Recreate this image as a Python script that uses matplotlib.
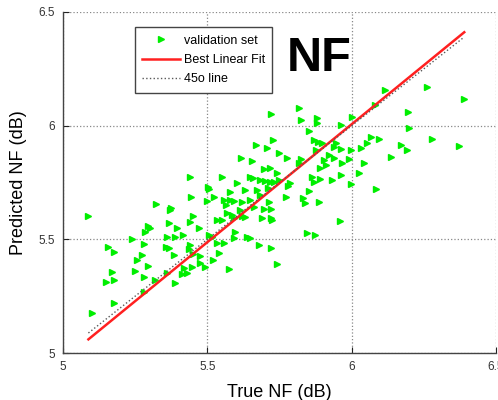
import numpy as np
import matplotlib.pyplot as plt

plt.rcParams['font.family'] = ['Liberation Sans', 'DejaVu Sans']

# validation set: true vs predicted noise figure (dB)
true_nf = [6.114, 6.261, 6.390, 6.082, 5.817, 5.719, 5.823, 5.881, 5.881, 5.962,
           6.000, 6.195, 6.199, 5.852, 5.869, 5.885, 5.898, 5.670, 5.727, 5.707,
           5.748, 5.777, 5.616, 5.656, 5.817, 5.823, 5.875, 5.904, 5.921, 5.939,
           5.944, 5.962, 5.939, 5.997, 5.991, 6.031, 6.054, 6.066, 6.095, 6.135,
           6.170, 6.193, 6.277, 6.373, 6.043, 6.025, 5.968, 5.910, 5.892, 5.864,
           5.869, 5.892, 5.933, 5.962, 5.997, 6.083, 5.852, 5.831, 5.840, 5.886,
           5.959, 5.695, 5.716, 5.740, 5.649, 5.659, 5.684, 5.701, 5.716, 5.730,
           5.748, 5.786, 5.779, 5.603, 5.551, 5.502, 5.505, 5.441, 5.580, 5.632,
           5.673, 5.709, 5.771, 5.522, 5.557, 5.563, 5.580, 5.591, 5.499, 5.443,
           5.620, 5.647, 5.661, 5.684, 5.713, 5.695, 5.719, 5.612, 5.568, 5.586,
           5.591, 5.620, 5.632, 5.690, 5.719, 5.725, 5.534, 5.551, 5.322, 5.372,
           5.375, 5.088, 5.452, 5.366, 5.441, 5.294, 5.302, 5.395, 5.470, 5.285,
           5.416, 5.360, 5.389, 5.239, 5.279, 5.155, 5.178, 5.358, 5.366, 5.439,
           5.435, 5.505, 5.516, 5.534, 5.557, 5.591, 5.597, 5.638, 5.647, 5.678,
           5.719, 5.846, 5.872, 5.273, 5.386, 5.452, 5.476, 5.539, 5.256, 5.520,
           5.742, 5.296, 5.473, 5.447, 5.493, 5.418, 5.574, 5.171, 5.250, 5.360,
           5.412, 5.430, 5.282, 5.148, 5.175, 5.317, 5.389, 5.279, 5.178, 5.102]
pred_nf = [6.157, 6.169, 6.117, 6.091, 6.078, 6.051, 6.025, 6.033, 6.013, 6.002,
           6.040, 6.060, 5.988, 5.977, 5.937, 5.930, 5.925, 5.915, 5.936, 5.902,
           5.881, 5.857, 5.858, 5.845, 5.835, 5.852, 5.893, 5.849, 5.871, 5.908,
           5.923, 5.896, 5.857, 5.893, 5.852, 5.901, 5.923, 5.952, 5.940, 5.861,
           5.915, 5.893, 5.940, 5.911, 5.837, 5.793, 5.835, 5.827, 5.813, 5.776,
           5.754, 5.764, 5.761, 5.783, 5.742, 5.722, 5.714, 5.681, 5.659, 5.663,
           5.579, 5.808, 5.813, 5.793, 5.773, 5.769, 5.761, 5.758, 5.754, 5.754,
           5.761, 5.747, 5.735, 5.747, 5.773, 5.732, 5.720, 5.773, 5.710, 5.717,
           5.717, 5.725, 5.688, 5.685, 5.673, 5.651, 5.673, 5.670, 5.669, 5.685,
           5.666, 5.673, 5.644, 5.695, 5.666, 5.632, 5.632, 5.629, 5.617, 5.607,
           5.595, 5.603, 5.600, 5.593, 5.593, 5.585, 5.585, 5.585, 5.656, 5.629,
           5.637, 5.603, 5.603, 5.573, 5.578, 5.559, 5.549, 5.549, 5.549, 5.531,
           5.519, 5.509, 5.509, 5.500, 5.478, 5.465, 5.443, 5.468, 5.461, 5.475,
           5.456, 5.519, 5.512, 5.485, 5.483, 5.505, 5.531, 5.509, 5.505, 5.475,
           5.461, 5.529, 5.519, 5.431, 5.431, 5.436, 5.427, 5.439, 5.409, 5.409,
           5.392, 5.383, 5.395, 5.380, 5.380, 5.373, 5.370, 5.356, 5.361, 5.353,
           5.348, 5.351, 5.333, 5.312, 5.321, 5.321, 5.309, 5.270, 5.220, 5.176]

# end points of the fitted line and of the y = x reference
fit_x = [5.088, 6.390]
fit_y = [5.060, 6.411]
ref_x = [5.088, 6.390]
ref_y = [5.088, 6.390]

ticks = [5, 5.5, 6, 6.5]
tick_labels = ['5', '5.5', '6', '6.5']

fig = plt.figure(figsize=(4.98, 4.0), dpi=100)
ax = fig.add_axes([0.1265, 0.1175, 0.8695, 0.8525])

ax.plot(true_nf, pred_nf, linestyle='none', marker='>', markersize=5,
        color='#00ee00', markeredgecolor='#00ee00', label='validation set')
ax.plot(fit_x, fit_y, color='#ff2020', lw=1.8, label='Best Linear Fit')
ax.plot(ref_x, ref_y, color='0.35', lw=1.0, linestyle=':', label='45o line')

ax.set_xlim(5, 6.5)
ax.set_ylim(5, 6.5)
ax.set_xticks(ticks)
ax.set_xticklabels(tick_labels)
ax.set_yticks(ticks)
ax.set_yticklabels(tick_labels)
ax.tick_params(direction='in', length=4, labelsize=8.5, labelcolor='#333333',
               color='#222222', pad=6)
ax.grid(True, linestyle=':', color='#888888', lw=0.9)
for side in ['top', 'right']:
    ax.spines[side].set_visible(False)
for side in ['left', 'bottom']:
    ax.spines[side].set_color('#444444')
    ax.spines[side].set_linewidth(1.0)

ax.set_xlabel('True NF (dB)', fontsize=13, labelpad=8)
ax.set_ylabel('Predicted NF (dB)', fontsize=13, labelpad=8)

ax.text(5.889, 6.295, 'NF', fontsize=35, fontweight='bold', ha='center', va='center')

leg = ax.legend(loc='upper left', bbox_to_anchor=(0.271, 0.9325),
                bbox_transform=fig.transFigure, borderaxespad=0, fontsize=9,
                handlelength=3, handletextpad=0.3, labelspacing=0.6,
                borderpad=0.6, fancybox=False, numpoints=1, framealpha=1)
leg.get_frame().set_edgecolor('#444444')
leg.get_frame().set_linewidth(1.0)

fig.savefig('out.png', dpi=100)
